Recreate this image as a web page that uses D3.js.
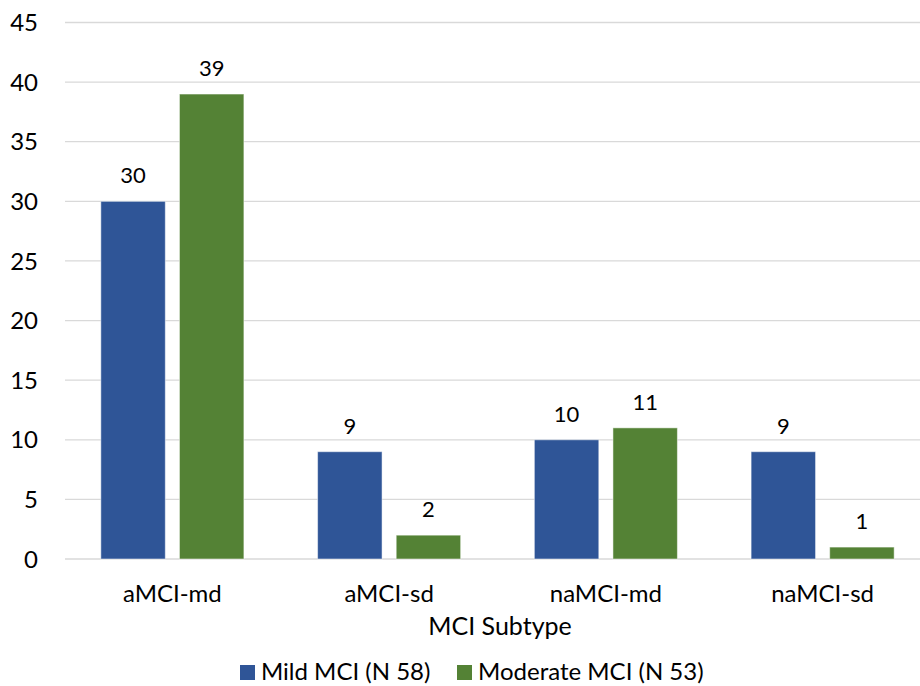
<!DOCTYPE html>
<html><head><meta charset="utf-8">
<script src="https://cdn.jsdelivr.net/npm/d3@7"></script>
<style>body{margin:0;background:#fff;} text{font-family:Lato,"Open Sans",sans-serif;fill:#000;}</style>
</head><body>
<svg id="c" width="920" height="686"></svg>
<script>
const categories = ["aMCI-md","aMCI-sd","naMCI-md","naMCI-sd"];
const seriesNames = ["Mild MCI (N 58)","Moderate MCI (N 53)"];
const mild = [30,9,10,9];
const moderate = [39,2,11,1];
const yTicks = [0,5,10,15,20,25,30,35,40,45];
const colors = ["#2F5597","#548235"];

const svg = d3.select("#c");
const plotLeft = 64, plotRight = 931, plotTop = 22.5, plotBottom = 559;
const x0 = d3.scaleBand().domain(categories).range([plotLeft,plotRight]).paddingInner(0.34).paddingOuter(0.17);
const x1 = d3.scaleBand().domain([0,1]).range([0,x0.bandwidth()]).paddingInner(0.18);
const y = d3.scaleLinear().domain([0,45]).range([plotBottom,plotTop]);

const g = svg.append("g");
g.selectAll("line.grid").data(yTicks).enter().append("line")
  .attr("x1",65).attr("x2",920).attr("y1",d=>y(d)).attr("y2",d=>y(d))
  .attr("stroke","#d9d9d9").attr("stroke-width",1.3);
g.selectAll("text.yt").data(yTicks).enter().append("text")
  .attr("x",38).attr("y",d=>y(d)).attr("dy","0.36em").attr("text-anchor","end")
  .attr("font-size",24).text(d=>d);

const series = [mild, moderate];
series.forEach((vals,si)=>{
  g.selectAll("rect.s"+si).data(vals).enter().append("rect")
    .attr("x",(d,i)=>x0(categories[i])+x1(si))
    .attr("width",x1.bandwidth())
    .attr("y",d=>y(d)).attr("height",d=>y(0)-y(d))
    .attr("fill",colors[si]).attr("stroke","#ffffff").attr("stroke-opacity",0.5).attr("stroke-width",1);
  g.selectAll("text.l"+si).data(vals).enter().append("text")
    .attr("x",(d,i)=>x0(categories[i])+x1(si)+x1.bandwidth()/2)
    .attr("y",d=>y(d)-18).attr("text-anchor","middle").attr("font-size",22).text(d=>d);
});

g.selectAll("text.cat").data(categories).enter().append("text")
  .attr("x",d=>x0(d)+x0.bandwidth()/2).attr("y",602).attr("text-anchor","middle")
  .attr("font-size",24).text(d=>d);
g.append("text").attr("x",500).attr("y",635).attr("text-anchor","middle").attr("font-size",25).text("MCI Subtype");

const legX = [240,457];
seriesNames.forEach((n,i)=>{
  g.append("rect").attr("x",legX[i]).attr("y",665).attr("width",15).attr("height",15).attr("fill",colors[i]);
  g.append("text").attr("x",legX[i]+21).attr("y",680).attr("font-size",24).text(n);
});
</script>
</body></html>
